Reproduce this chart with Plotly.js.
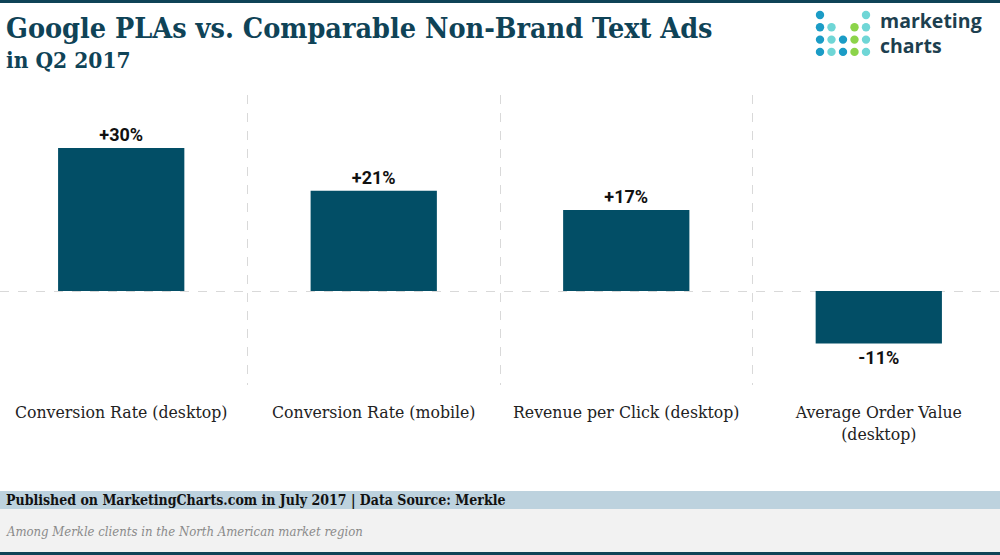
<!DOCTYPE html>
<html>
<head>
<meta charset="utf-8">
<script src="https://cdn.plot.ly/plotly-3.0.1.min.js"></script>
<style>html,body{margin:0;padding:0;background:#fff;}#chart{width:1000px;height:555px;}</style>
</head>
<body>
<div id="chart"></div>
<script>
// ---- data ----
const categories = ["Conversion Rate (desktop)", "Conversion Rate (mobile)", "Revenue per Click (desktop)", "Average Order Value<br>(desktop)"];
const values = [30, 21, 17, -11];
const valueLabels = values.map(v => (v > 0 ? "+" : "") + v + "%");
const titleLine1 = "Google PLAs vs. Comparable Non-Brand Text Ads";
const titleLine2 = "in Q2 2017";
const footerSource = "Published on MarketingCharts.com in July 2017 | Data Source: Merkle";
const footerNote = "Among Merkle clients in the North American market region";

// ---- layout helpers ----
const W = 1000, H = 555, T = 95, B = 385;
const py = p => (B - p) / (B - T);   // pixel y -> paper y
const px = p => p / W;

const slab = "'DejaVu Serif Condensed', 'DejaVu Serif', serif";
const barColor = "#024e66";
const titleColor = "#0f4357";

const trace = {
  type: "bar",
  x: categories,
  y: values,
  width: 0.5,
  marker: {color: barColor},
  text: valueLabels,
  textposition: "outside",
  cliponaxis: false,
  textfont: {family: "Roboto, sans-serif", size: 18, color: "#111", weight: "bold"},
  hoverinfo: "none"
};

const dots = [
  [0,0,"#1b9cc6"],[4,0,"#6fd6d6"],
  [0,1,"#1b9cc6"],[1,1,"#6fd6d6"],[3,1,"#8cd44a"],[4,1,"#6fd6d6"],
  [0,2,"#1b9cc6"],[1,2,"#6fd6d6"],[2,2,"#1b9cc6"],[3,2,"#8cd44a"],[4,2,"#6fd6d6"],
  [0,3,"#1b9cc6"],[1,3,"#6fd6d6"],[2,3,"#1b9cc6"],[3,3,"#8cd44a"],[4,3,"#6fd6d6"]
];
const shapes = [
  {type:"rect", xref:"paper", yref:"paper", x0:0, x1:1, y0:py(0), y1:py(3), fillcolor:"#0f4357", line:{width:0}, layer:"below"},
  {type:"rect", xref:"paper", yref:"paper", x0:0, x1:1, y0:py(491), y1:py(509), fillcolor:"#bdd2de", line:{width:0}, layer:"below"},
  {type:"rect", xref:"paper", yref:"paper", x0:0, x1:1, y0:py(509), y1:py(552), fillcolor:"#f2f2f2", line:{width:0}, layer:"below"},
  {type:"rect", xref:"paper", yref:"paper", x0:0, x1:1, y0:py(552), y1:py(555), fillcolor:"#0f4357", line:{width:0}, layer:"below"}
];
dots.forEach(([c, r, col]) => {
  const cx = 820 + c * 11.5, cy = 15 + r * 12.3, rad = 4.2;
  shapes.push({type:"circle", xref:"paper", yref:"paper", x0:px(cx-rad), x1:px(cx+rad), y0:py(cy+rad), y1:py(cy-rad), fillcolor:col, line:{width:0}});
});

const annotations = [
  {xref:"paper", yref:"paper", x:px(4), y:py(9), xanchor:"left", yanchor:"top", showarrow:false,
   text:"<b>"+titleLine1+"</b>", font:{family:slab, size:28.5, color:titleColor}},
  {xref:"paper", yref:"paper", x:px(4), y:py(45), xanchor:"left", yanchor:"top", showarrow:false,
   text:"<b>"+titleLine2+"</b>", font:{family:slab, size:22.5, color:titleColor}},
  {xref:"paper", yref:"paper", x:px(878), y:py(33), xanchor:"left", yanchor:"middle", align:"left", showarrow:false,
   text:"<b>marketing<br>charts</b>", font:{family:"'Open Sans', sans-serif", size:19.5, color:"#1d3f4f"}},
  {xref:"paper", yref:"paper", x:px(4), y:py(500), xanchor:"left", yanchor:"middle", showarrow:false,
   text:"<b>"+footerSource+"</b>", font:{family:slab, size:14, color:"#111"}},
  {xref:"paper", yref:"paper", x:px(4), y:py(531), xanchor:"left", yanchor:"middle", showarrow:false,
   text:"<i>"+footerNote+"</i>", font:{family:slab, size:13, color:"#8a8a8a"}}
];

const layout = {
  width: W, height: H,
  margin: {l: 0, r: 0, t: T, b: H - B, pad: 0},
  paper_bgcolor: "#fff", plot_bgcolor: "#fff",
  showlegend: false,
  xaxis: {
    type: "category",
    range: [-0.48, 3.48],
    tickson: "boundaries", showgrid: true, griddash: "dash", gridcolor: "#d9d9d9", gridwidth: 1,
    ticks: "", showline: false, zeroline: false, fixedrange: true,
    ticklabelstandoff: 14,
    tickfont: {family: slab, size: 17.5, color: "#222"}
  },
  yaxis: {
    range: [-19.7, 41.1], tickvals: [0], showticklabels: false,
    showgrid: true, griddash: "dash", gridcolor: "#d9d9d9", gridwidth: 1,
    zeroline: false, showline: false, ticks: "", fixedrange: true
  },
  shapes: shapes,
  annotations: annotations
};

Plotly.newPlot("chart", [trace], layout, {displayModeBar: false, staticPlot: true});
</script>
</body>
</html>
